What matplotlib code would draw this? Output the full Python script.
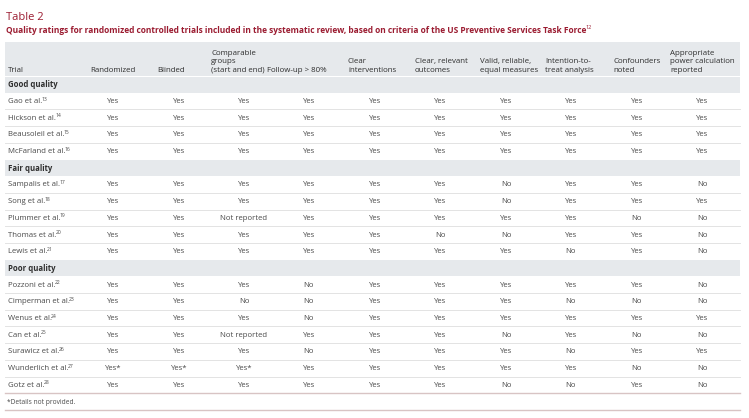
import matplotlib
matplotlib.use("Agg")
import matplotlib.pyplot as plt

plt.rcParams['font.family'] = ['Open Sans', 'DejaVu Sans']

# Table content
table_label = "Table 2"
table_title = ("Quality ratings for randomized controlled trials included in the "
               "systematic review, based on criteria of the US Preventive Services Task Force")
title_ref = "12"

headers = ["Randomized", "Blinded", "Comparable\ngroups\n(start and end)", "Follow-up > 80%",
           "Clear\ninterventions", "Clear, relevant\noutcomes", "Valid, reliable,\nequal measures",
           "Intention-to-\ntreat analysis", "Confounders\nnoted",
           "Appropriate\npower calculation\nreported"]

groups = ["Good quality", "Fair quality", "Poor quality"]

good_trials = ["Gao et al.", "Hickson et al.", "Beausoleil et al.", "McFarland et al."]
good_refs = ["13", "14", "15", "16"]
good_ratings = [
    ["Yes"] * 10,
    ["Yes"] * 10,
    ["Yes"] * 10,
    ["Yes"] * 10,
]

fair_trials = ["Sampalis et al.", "Song et al.", "Plummer et al.", "Thomas et al.", "Lewis et al."]
fair_refs = ["17", "18", "19", "20", "21"]
fair_ratings = [
    ["Yes", "Yes", "Yes", "Yes", "Yes", "Yes", "No", "Yes", "Yes", "No"],
    ["Yes", "Yes", "Yes", "Yes", "Yes", "Yes", "No", "Yes", "Yes", "Yes"],
    ["Yes", "Yes", "Not reported", "Yes", "Yes", "Yes", "Yes", "Yes", "No", "No"],
    ["Yes", "Yes", "Yes", "Yes", "Yes", "No", "No", "Yes", "Yes", "No"],
    ["Yes", "Yes", "Yes", "Yes", "Yes", "Yes", "Yes", "No", "Yes", "No"],
]

poor_trials = ["Pozzoni et al.", "Cimperman et al.", "Wenus et al.", "Can et al.",
               "Surawicz et al.", "Wunderlich et al.", "Gotz et al."]
poor_refs = ["22", "23", "24", "25", "26", "27", "28"]
poor_ratings = [
    ["Yes", "Yes", "Yes", "No", "Yes", "Yes", "Yes", "Yes", "Yes", "No"],
    ["Yes", "Yes", "No", "No", "Yes", "Yes", "Yes", "No", "No", "No"],
    ["Yes", "Yes", "Yes", "No", "Yes", "Yes", "Yes", "Yes", "Yes", "Yes"],
    ["Yes", "Yes", "Not reported", "Yes", "Yes", "Yes", "No", "Yes", "No", "No"],
    ["Yes", "Yes", "Yes", "No", "Yes", "Yes", "Yes", "No", "Yes", "Yes"],
    ["Yes*", "Yes*", "Yes*", "Yes", "Yes", "Yes", "Yes", "Yes", "No", "No"],
    ["Yes", "Yes", "Yes", "Yes", "Yes", "Yes", "No", "No", "Yes", "No"],
]

footnote = "*Details not provided."

# Layout (pixel units)
W, H = 749, 418
x_left, x_right = 5, 740
col_left = [90, 157, 211, 267, 348, 415, 480, 545, 613, 670]
col_center = [113, 179, 244, 309, 375, 440, 506, 571, 637, 702]
head_top, head_bot = 42, 76
row_h = 16.7

red = "#9b1c31"
band = "#e6e9ec"
txt = "#4a4a4a"
dark = "#2e2e2e"

fig = plt.figure(figsize=(W / 100, H / 100), dpi=100)
ax = fig.add_axes([0, 0, 1, 1])
ax.set_xlim(0, W)
ax.set_ylim(H, 0)
ax.axis("off")
renderer = fig.canvas.get_renderer()


def with_sup(x, y, s, sup, size, sup_size, **kw):
    # main text plus a small raised reference number right after it
    t = ax.text(x, y, s, fontsize=size, ha="left", va="center", **kw)
    x_end = t.get_window_extent(renderer).x1
    kw.pop("fontweight", None)
    ax.text(x_end - 0.8, y - size * 0.42, sup, fontsize=sup_size, ha="left",
            va="center", **kw)


ax.text(6, 17, table_label, color=red, fontsize=8, va="center", ha="left")
with_sup(6, 30.5, table_title, title_ref, 6.0, 4.0, color=red, fontweight="bold")

# header band
ax.fill_between([x_left, x_right], head_top, head_bot, color=band, lw=0)
ax.text(8, 71.5, "Trial", fontsize=5.7, color=dark, ha="left", va="baseline")
for lab, xl in zip(headers, col_left):
    ax.text(xl, 71.5, lab, fontsize=5.7, color=dark, ha="left", va="baseline",
            linespacing=1.24)

y = head_bot
for g, trials, refs, ratings in zip(groups,
                                    [good_trials, fair_trials, poor_trials],
                                    [good_refs, fair_refs, poor_refs],
                                    [good_ratings, fair_ratings, poor_ratings]):
    ax.fill_between([x_left, x_right], y + 0.8, y + row_h, color=band, lw=0)
    ax.text(8, y + row_h / 2 + 0.6, g, fontsize=5.6, fontweight="bold", color=dark,
            ha="left", va="center")
    y += row_h
    for i, (name, ref, vals) in enumerate(zip(trials, refs, ratings)):
        yc = y + row_h / 2 + 0.4
        with_sup(8, yc, name, ref, 5.6, 3.6, color=txt)
        for v, xc in zip(vals, col_center):
            ax.text(xc, yc, v, fontsize=5.6, color=txt, ha="center", va="center")
        y += row_h
        if i < len(trials) - 1:
            ax.plot([x_left, x_right], [y, y], color="#e3e3e3", lw=0.7)

ax.plot([x_left, x_right], [y, y], color="#d8c4c4", lw=1.0)
ax.text(7, y + row_h / 2 + 0.4, footnote, fontsize=4.8, color=txt, ha="left", va="center")
y += row_h
ax.plot([x_left, x_right], [y, y], color="#d8c4c4", lw=1.0)

fig.savefig("out.png", dpi=100, facecolor="white")
